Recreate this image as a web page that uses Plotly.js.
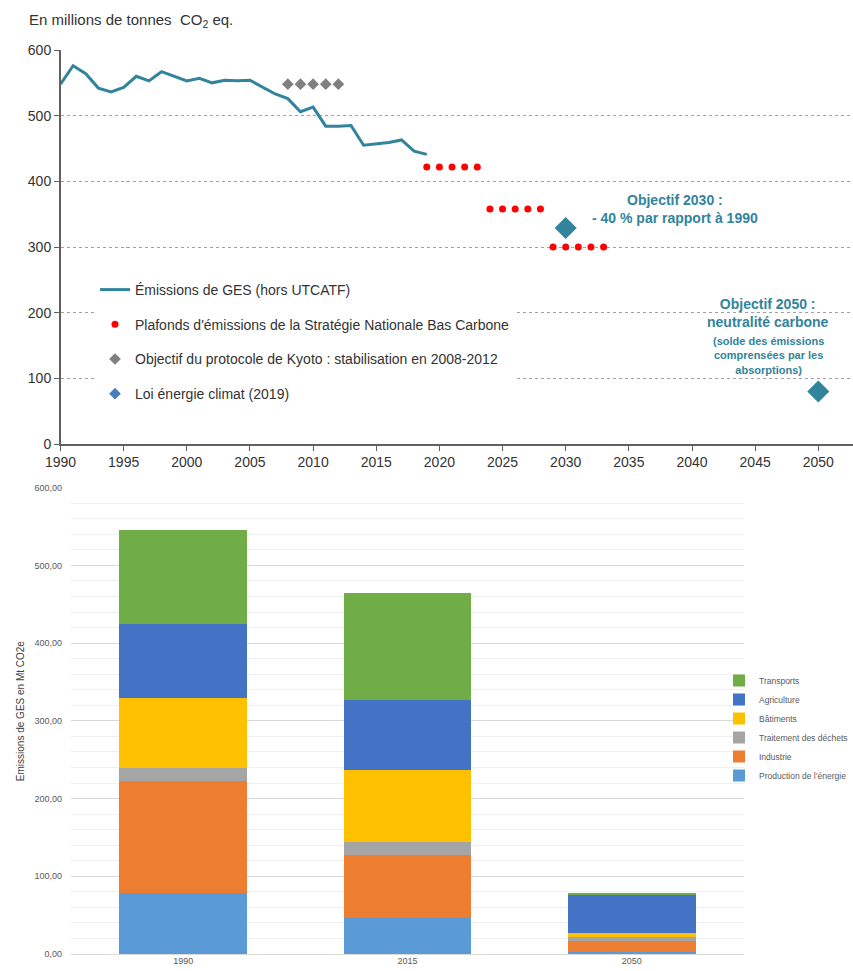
<!DOCTYPE html>
<html>
<head>
<meta charset="utf-8">
<script src="https://cdn.plot.ly/plotly-3.0.1.min.js"></script>
<style>html,body{margin:0;padding:0;background:#fff;}#chart{width:853px;height:971px;}</style>
</head>
<body>
<div id="chart"></div>
<script>
// ---- Top chart data ----
const emisYears = [1990,1991,1992,1993,1994,1995,1996,1997,1998,1999,2000,2001,2002,2003,2004,2005,2006,2007,2008,2009,2010,2011,2012,2013,2014,2015,2016,2017,2018,2019];
const emisValues = [548,576,564,542,536,543,560,553,567,560,553,557,550,554,553,554,543,533,526,506,513,484,484,485,455,457,459,463,446,441];
const snbcYears = [2019,2020,2021,2022,2023,2024,2025,2026,2027,2028,2029,2030,2031,2032,2033];
const snbcValues = [422,422,422,422,422,358,358,358,358,358,300,300,300,300,300];
const kyotoYears = [2008,2009,2010,2011,2012];
const kyotoValues = [548,548,548,548,548];
const loiYears = [2030,2050];
const loiValues = [329,80];

// ---- Bottom chart data ----
const barCategories = ['1990','2015','2050'];
const sectorNames = ['Production de l\u2019énergie','Industrie','Traitement des déchets','Bâtiments','Agriculture','Transports'];
const productionValues = [78,46,2];
const industrieValues = [144,82,15];
const dechetsValues = [17,16,5.5];
const batimentsValues = [91,93,4.5];
const agricultureValues = [94,90,49];
const transportsValues = [122,137,3];
const sectorValues = [productionValues,industrieValues,dechetsValues,batimentsValues,agricultureValues,transportsValues];
const sectorColors = ['#5b9bd5','#ed7d31','#a5a5a5','#ffc000','#4472c4','#70ad47'];

const W = 853, H = 971;
const teal = '#31849b';

const traces = [
  {x: emisYears, y: emisValues, type:'scatter', mode:'lines', name:'Émissions de GES (hors UTCATF)',
   line:{color:teal, width:3}, xaxis:'x', yaxis:'y', legendgroup:'a', legend:'legend'},
  {x: snbcYears, y: snbcValues, type:'scatter', mode:'markers', name:'Plafonds d\'émissions de la Stratégie Nationale Bas Carbone',
   marker:{color:'#ff0000', size:7}, xaxis:'x', yaxis:'y', legendgroup:'b', legend:'legend'},
  {x: kyotoYears, y: kyotoValues, type:'scatter', mode:'markers', name:'Objectif du protocole de Kyoto : stabilisation en 2008-2012',
   marker:{color:'#808080', size:9, symbol:'diamond'}, xaxis:'x', yaxis:'y', legendgroup:'c', legend:'legend'},
  {x: loiYears, y: loiValues, type:'scatter', mode:'markers', name:'Loi énergie climat (2019)', showlegend:false,
   marker:{color:teal, size:17, symbol:'diamond'}, xaxis:'x', yaxis:'y', legendgroup:'d', legend:'legend'},
  {x: [null], y: [null], type:'scatter', mode:'markers', name:'Loi énergie climat (2019)',
   marker:{color:'#4a7ebb', size:9, symbol:'diamond'}, xaxis:'x', yaxis:'y', legendgroup:'d', legend:'legend'}
];

sectorNames.forEach((n,i)=>{
  traces.push({x: barCategories, y: sectorValues[i], type:'bar', name:n,
    marker:{color:sectorColors[i]}, xaxis:'x2', yaxis:'y2', legend:'legend2'});
});

const topX0 = 60.5/W, topTop = 1-50/H, topBot = 1-444/H;
const botX0 = 71/W, botX1 = 744/W, botTop = 1-487.7/H, botBot = 1-954/H;

const layout = {
  width:W, height:H,
  margin:{l:0,r:0,t:0,b:0, autoexpand:false},
  paper_bgcolor:'#ffffff', plot_bgcolor:'rgba(0,0,0,0)',
  separators:',.',
  font:{family:'Liberation Sans, Arial, sans-serif', color:'#333333'},
  barmode:'stack', bargap:0.43,
  xaxis:{domain:[topX0,1], anchor:'y', range:[1990, 1990+(W-60.5)/12.63], tick0:1990, dtick:5,
    showgrid:false, zeroline:false, showline:true, linecolor:'#606060', linewidth:1.5,
    ticks:'outside', ticklen:5, tickcolor:'#606060', tickfont:{size:14, color:'#333333'}},
  yaxis:{domain:[topBot, topTop], anchor:'x', range:[0,600], dtick:100,
    showgrid:true, gridcolor:'#a0a0a0', griddash:'dot', gridwidth:1, zeroline:false,
    showline:true, linecolor:'#606060', linewidth:1.5, ticks:'outside', ticklen:5, tickcolor:'#606060',
    tickfont:{size:14, color:'#333333'}},
  xaxis2:{domain:[botX0, botX1], anchor:'y2', type:'category', showgrid:false, showline:false, zeroline:false,
    ticks:'', tickfont:{size:9, color:'#595959'}},
  yaxis2:{domain:[botBot, botTop], anchor:'x2', range:[0,600], dtick:100, tickformat:'.2f',
    showgrid:true, gridcolor:'#d9d9d9', gridwidth:1, zeroline:true, zerolinecolor:'#d9d9d9',
    minor:{dtick:20, showgrid:true, gridcolor:'#efefef', gridwidth:1},
    showline:false, ticks:'', ticklabelstandoff:8, tickfont:{size:9, color:'#595959'}},
  legend:{x:95/W, xanchor:'left', y:1-274/H, yanchor:'top', bgcolor:'#ffffff', borderwidth:0,
    traceorder:'grouped', tracegroupgap:13.5, font:{size:14, color:'#333333'}, itemwidth:30},
  legend2:{x:719/W, xanchor:'left', y:1-666/H, yanchor:'top', bgcolor:'rgba(0,0,0,0)',
    traceorder:'reversed', font:{size:8.5, color:'#595959'}, tracegroupgap:0},
  annotations:[
    {xref:'paper', yref:'paper', x:27/W, y:1-20/H, xanchor:'left', yanchor:'middle', showarrow:false,
     text:'En millions de tonnes  CO<sub>2</sub> eq.', font:{size:15, color:'#333333'}},
    {xref:'paper', yref:'paper', x:675/W, y:1-209/H, xanchor:'center', yanchor:'middle', showarrow:false, align:'center',
     text:'<b>Objectif 2030 :</b><br><b>- 40 % par rapport à 1990</b>', font:{size:14, color:teal}},
    {xref:'paper', yref:'paper', x:768/W, y:1-313/H, xanchor:'center', yanchor:'middle', showarrow:false, align:'center',
     text:'<b>Objectif 2050 :</b><br><b>neutralité carbone</b>', font:{size:14, color:teal}},
    {xref:'paper', yref:'paper', x:768/W, y:1-355/H, xanchor:'center', yanchor:'middle', showarrow:false, align:'center',
     text:'<b>(solde des émissions</b><br><b>comprensées par les</b><br><b>absorptions)</b>', font:{size:11, color:teal}},
    {xref:'paper', yref:'paper', x:20/W, y:(botTop+botBot)/2 + 0.01, xanchor:'center', yanchor:'middle', showarrow:false,
     textangle:-90, text:'Emissions de GES en Mt CO2e', font:{size:10, color:'#404040'}}
  ],
  showlegend:true
};

Plotly.newPlot('chart', traces, layout, {displayModeBar:false, staticPlot:true});
</script>
</body>
</html>
